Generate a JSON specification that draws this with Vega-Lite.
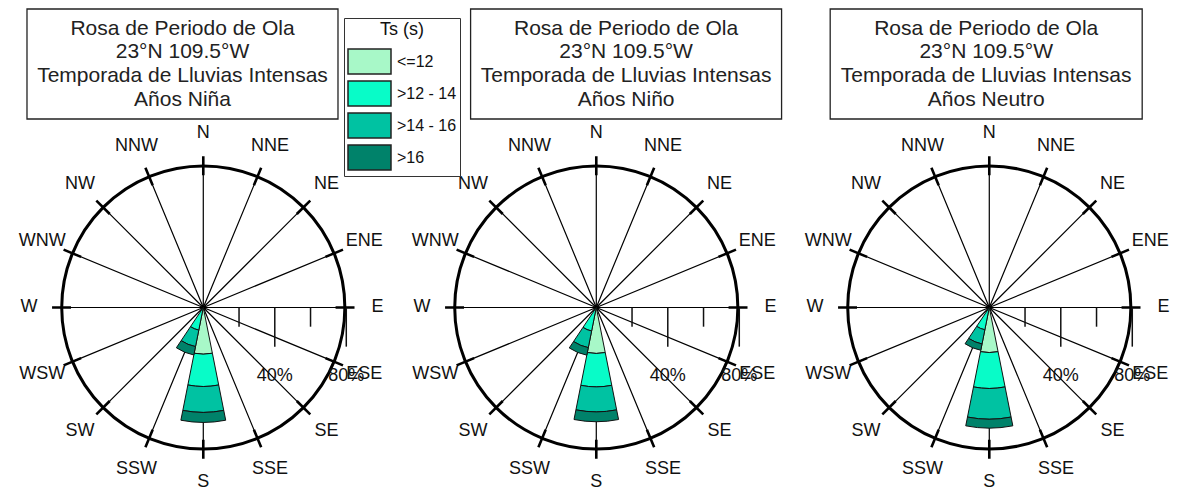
{
  "$schema": "https://vega.github.io/schema/vega-lite/v6.json",
  "padding": 0,
  "spacing": 0,
  "bounds": "flush",
  "config": {"font": "Liberation Sans", "view": {"stroke": null}, "text": {"color": "#111"}},
  "resolve": {"scale": {"color": "shared"}, "legend": {"color": "shared"}},
  "datasets": {
    "dirs": [
      {"dir": "N", "deg": 0}, {"dir": "NNE", "deg": 22.5}, {"dir": "NE", "deg": 45}, {"dir": "ENE", "deg": 67.5},
      {"dir": "E", "deg": 90}, {"dir": "ESE", "deg": 112.5}, {"dir": "SE", "deg": 135}, {"dir": "SSE", "deg": 157.5},
      {"dir": "S", "deg": 180}, {"dir": "SSW", "deg": 202.5}, {"dir": "SW", "deg": 225}, {"dir": "WSW", "deg": 247.5},
      {"dir": "W", "deg": 270}, {"dir": "WNW", "deg": 292.5}, {"dir": "NW", "deg": 315}, {"dir": "NNW", "deg": 337.5}
    ],
    "rose": [
      {"panel": "Niña", "dir": "S", "deg": 180, "clase": "<=12", "k": 1, "pct": 26.1},
      {"panel": "Niña", "dir": "S", "deg": 180, "clase": ">12 - 14", "k": 2, "pct": 18.1},
      {"panel": "Niña", "dir": "S", "deg": 180, "clase": ">14 - 16", "k": 3, "pct": 14.5},
      {"panel": "Niña", "dir": "S", "deg": 180, "clase": ">16", "k": 4, "pct": 5.6},
      {"panel": "Niña", "dir": "SSW", "deg": 202.5, "clase": "<=12", "k": 1, "pct": 0.3},
      {"panel": "Niña", "dir": "SSW", "deg": 202.5, "clase": ">12 - 14", "k": 2, "pct": 12.6},
      {"panel": "Niña", "dir": "SSW", "deg": 202.5, "clase": ">14 - 16", "k": 3, "pct": 9.4},
      {"panel": "Niña", "dir": "SSW", "deg": 202.5, "clase": ">16", "k": 4, "pct": 4.8},
      {"panel": "Niño", "dir": "S", "deg": 180, "clase": "<=12", "k": 1, "pct": 25.7},
      {"panel": "Niño", "dir": "S", "deg": 180, "clase": ">12 - 14", "k": 2, "pct": 18.7},
      {"panel": "Niño", "dir": "S", "deg": 180, "clase": ">14 - 16", "k": 3, "pct": 14.0},
      {"panel": "Niño", "dir": "S", "deg": 180, "clase": ">16", "k": 4, "pct": 5.5},
      {"panel": "Niño", "dir": "SSW", "deg": 202.5, "clase": "<=12", "k": 1, "pct": 0.3},
      {"panel": "Niño", "dir": "SSW", "deg": 202.5, "clase": ">12 - 14", "k": 2, "pct": 13.1},
      {"panel": "Niño", "dir": "SSW", "deg": 202.5, "clase": ">14 - 16", "k": 3, "pct": 9.5},
      {"panel": "Niño", "dir": "SSW", "deg": 202.5, "clase": ">16", "k": 4, "pct": 4.3},
      {"panel": "Neutro", "dir": "S", "deg": 180, "clase": "<=12", "k": 1, "pct": 25.2},
      {"panel": "Neutro", "dir": "S", "deg": 180, "clase": ">12 - 14", "k": 2, "pct": 20.1},
      {"panel": "Neutro", "dir": "S", "deg": 180, "clase": ">14 - 16", "k": 3, "pct": 17.2},
      {"panel": "Neutro", "dir": "S", "deg": 180, "clase": ">16", "k": 4, "pct": 5.0},
      {"panel": "Neutro", "dir": "SSW", "deg": 202.5, "clase": "<=12", "k": 1, "pct": 0.3},
      {"panel": "Neutro", "dir": "SSW", "deg": 202.5, "clase": ">12 - 14", "k": 2, "pct": 12.4},
      {"panel": "Neutro", "dir": "SSW", "deg": 202.5, "clase": ">14 - 16", "k": 3, "pct": 8.1},
      {"panel": "Neutro", "dir": "SSW", "deg": 202.5, "clase": ">16", "k": 4, "pct": 3.6}
    ],
    "ticks": [{"pct": 20, "label": "20%"}, {"pct": 40, "label": "40%"}, {"pct": 60, "label": "60%"}, {"pct": 80, "label": "80%"}]
  },
  "hconcat": [
    {
      "width": 392.4, "height": 491,
      "layer": [
        {"data": {"values": [{}]}, "mark": {"type": "rect", "fill": "white", "stroke": "#222", "strokeWidth": 1.3},
         "encoding": {"x": {"datum": -98.63, "type": "quantitative", "axis": null, "scale": {"domain": [-113.73, 105.8], "nice": false, "zero": false}}, "x2": {"datum": 75.36},
           "y": {"datum": 167.0, "type": "quantitative", "axis": null, "scale": {"domain": [-102.66, 172.03], "nice": false, "zero": false}}, "y2": {"datum": 105.45}}},
        {"data": {"values": [{}]}, "mark": {"type": "text", "fontSize": 21, "lineHeight": 23.6, "baseline": "middle", "align": "center", "color": "#222"},
         "encoding": {"x": {"datum": -11.64, "type": "quantitative", "axis": null}, "y": {"datum": 155.9, "type": "quantitative", "axis": null},
           "text": {"value": ["Rosa de Periodo de Ola", "23°N 109.5°W", "Temporada de Lluvias Intensas", "Años Niña"]}}},
        {"data": {"name": "dirs"}, "mark": {"type": "arc", "fillOpacity": 0, "stroke": "#000", "strokeWidth": 1.2},
         "encoding": {"x": {"datum": 0, "type": "quantitative", "axis": null}, "y": {"datum": 0, "type": "quantitative", "axis": null},
           "theta": {"field": "deg", "type": "quantitative", "stack": null, "scale": {"domain": [0, 360]}}, "theta2": {"field": "deg"},
           "radius": {"datum": 79.2, "type": "quantitative", "scale": {"type": "linear", "domain": [0, 80], "range": [0, 143], "zero": true, "nice": false}}, "radius2": {"datum": 0}}},
        {"data": {"name": "dirs"}, "mark": {"type": "arc", "fillOpacity": 0, "stroke": "#000", "strokeWidth": 2.6},
         "encoding": {"x": {"datum": 0, "type": "quantitative", "axis": null}, "y": {"datum": 0, "type": "quantitative", "axis": null},
           "theta": {"field": "deg", "type": "quantitative", "stack": null}, "theta2": {"field": "deg"},
           "radius": {"datum": 84.6, "type": "quantitative"}, "radius2": {"datum": 74}}},
        {"data": {"values": [{}]}, "mark": {"type": "arc", "fillOpacity": 0, "stroke": "#000", "strokeWidth": 3},
         "encoding": {"x": {"datum": 0, "type": "quantitative", "axis": null}, "y": {"datum": 0, "type": "quantitative", "axis": null},
           "theta": {"datum": 0, "type": "quantitative", "stack": null}, "theta2": {"datum": 360},
           "radius": {"datum": 79.2, "type": "quantitative"}, "radius2": {"datum": 0}}},
        {"data": {"name": "ticks"}, "transform": [{"filter": "datum.pct == 20 || datum.pct == 60"}], "mark": {"type": "rule", "color": "#111", "strokeWidth": 1.5},
         "encoding": {"x": {"field": "pct", "type": "quantitative", "axis": null}, "y": {"datum": 0, "type": "quantitative", "axis": null}, "y2": {"datum": -10.74}}},
        {"data": {"name": "ticks"}, "transform": [{"filter": "datum.pct == 40 || datum.pct == 80"}], "mark": {"type": "rule", "color": "#111", "strokeWidth": 1.5},
         "encoding": {"x": {"field": "pct", "type": "quantitative", "axis": null}, "y": {"datum": 0, "type": "quantitative", "axis": null}, "y2": {"datum": -21.9}}},
        {"data": {"name": "rose"}, "transform": [{"filter": "datum.panel == 'Niña'"}, {"calculate": "datum.deg - 11.25", "as": "t0"}, {"calculate": "datum.deg + 11.25", "as": "t1"}],
         "mark": {"type": "arc", "stroke": "#111", "strokeWidth": 1},
         "encoding": {"x": {"datum": 0, "type": "quantitative", "axis": null}, "y": {"datum": 0, "type": "quantitative", "axis": null},
           "theta": {"field": "t0", "type": "quantitative", "stack": null}, "theta2": {"field": "t1"},
           "radius": {"field": "pct", "type": "quantitative", "stack": "zero"},
           "order": {"field": "k", "type": "quantitative"},
           "color": {"field": "clase", "type": "nominal",
             "scale": {"domain": ["<=12", ">12 - 14", ">14 - 16", ">16"], "range": ["#A8F8C8", "#08FCC8", "#00C2A2", "#00826A"]},
             "legend": {"orient": "none", "legendX": 344, "legendY": 18, "title": "Ts (s)", "titleFontSize": 18, "titleFontWeight": "normal", "titleColor": "#111", "titleAnchor": "middle", "titlePadding": 9,
               "labelFontSize": 16, "labelColor": "#111", "labelOffset": 14, "symbolOffset": 9, "symbolType": "M-1.72,-1H1.72V1H-1.72Z", "symbolSize": 625, "symbolStrokeColor": "#222", "symbolStrokeWidth": 1.5, "symbolOpacity": 1,
               "rowPadding": 1, "padding": 3, "strokeColor": "#333", "fillColor": "white"}}}},
        {"data": {"name": "dirs"}, "mark": {"type": "text", "fontSize": 18, "baseline": "middle", "align": "center"},
         "encoding": {"x": {"datum": 0, "type": "quantitative", "axis": null}, "y": {"datum": 0, "type": "quantitative", "axis": null},
           "theta": {"field": "deg", "type": "quantitative", "stack": null}, "radius": {"datum": 97.5, "type": "quantitative"}, "text": {"field": "dir"}}},
        {"data": {"name": "ticks"}, "transform": [{"filter": "datum.pct == 40 || datum.pct == 80"}], "mark": {"type": "text", "fontSize": 18, "baseline": "middle", "align": "center"},
         "encoding": {"x": {"field": "pct", "type": "quantitative", "axis": null}, "y": {"datum": -38.3, "type": "quantitative", "axis": null}, "text": {"field": "label"}}}
      ]
    },
    {
      "width": 392.4, "height": 491,
      "layer": [
        {"data": {"values": [{}]}, "mark": {"type": "rect", "fill": "white", "stroke": "#222", "strokeWidth": 1.3},
         "encoding": {"x": {"datum": -70.32, "type": "quantitative", "axis": null, "scale": {"domain": [-113.73, 105.8], "nice": false, "zero": false}}, "x2": {"datum": 103.66},
           "y": {"datum": 167.0, "type": "quantitative", "axis": null, "scale": {"domain": [-102.66, 172.03], "nice": false, "zero": false}}, "y2": {"datum": 105.45}}},
        {"data": {"values": [{}]}, "mark": {"type": "text", "fontSize": 21, "lineHeight": 23.6, "baseline": "middle", "align": "center", "color": "#222"},
         "encoding": {"x": {"datum": 16.67, "type": "quantitative", "axis": null}, "y": {"datum": 155.9, "type": "quantitative", "axis": null},
           "text": {"value": ["Rosa de Periodo de Ola", "23°N 109.5°W", "Temporada de Lluvias Intensas", "Años Niño"]}}},
        {"data": {"name": "dirs"}, "mark": {"type": "arc", "fillOpacity": 0, "stroke": "#000", "strokeWidth": 1.2},
         "encoding": {"x": {"datum": 0, "type": "quantitative", "axis": null}, "y": {"datum": 0, "type": "quantitative", "axis": null},
           "theta": {"field": "deg", "type": "quantitative", "stack": null, "scale": {"domain": [0, 360]}}, "theta2": {"field": "deg"},
           "radius": {"datum": 79.2, "type": "quantitative", "scale": {"type": "linear", "domain": [0, 80], "range": [0, 143], "zero": true, "nice": false}}, "radius2": {"datum": 0}}},
        {"data": {"name": "dirs"}, "mark": {"type": "arc", "fillOpacity": 0, "stroke": "#000", "strokeWidth": 2.6},
         "encoding": {"x": {"datum": 0, "type": "quantitative", "axis": null}, "y": {"datum": 0, "type": "quantitative", "axis": null},
           "theta": {"field": "deg", "type": "quantitative", "stack": null}, "theta2": {"field": "deg"},
           "radius": {"datum": 84.6, "type": "quantitative"}, "radius2": {"datum": 74}}},
        {"data": {"values": [{}]}, "mark": {"type": "arc", "fillOpacity": 0, "stroke": "#000", "strokeWidth": 3},
         "encoding": {"x": {"datum": 0, "type": "quantitative", "axis": null}, "y": {"datum": 0, "type": "quantitative", "axis": null},
           "theta": {"datum": 0, "type": "quantitative", "stack": null}, "theta2": {"datum": 360},
           "radius": {"datum": 79.2, "type": "quantitative"}, "radius2": {"datum": 0}}},
        {"data": {"name": "ticks"}, "transform": [{"filter": "datum.pct == 20 || datum.pct == 60"}], "mark": {"type": "rule", "color": "#111", "strokeWidth": 1.5},
         "encoding": {"x": {"field": "pct", "type": "quantitative", "axis": null}, "y": {"datum": 0, "type": "quantitative", "axis": null}, "y2": {"datum": -10.74}}},
        {"data": {"name": "ticks"}, "transform": [{"filter": "datum.pct == 40 || datum.pct == 80"}], "mark": {"type": "rule", "color": "#111", "strokeWidth": 1.5},
         "encoding": {"x": {"field": "pct", "type": "quantitative", "axis": null}, "y": {"datum": 0, "type": "quantitative", "axis": null}, "y2": {"datum": -21.9}}},
        {"data": {"name": "rose"}, "transform": [{"filter": "datum.panel == 'Niño'"}, {"calculate": "datum.deg - 11.25", "as": "t0"}, {"calculate": "datum.deg + 11.25", "as": "t1"}],
         "mark": {"type": "arc", "stroke": "#111", "strokeWidth": 1},
         "encoding": {"x": {"datum": 0, "type": "quantitative", "axis": null}, "y": {"datum": 0, "type": "quantitative", "axis": null},
           "theta": {"field": "t0", "type": "quantitative", "stack": null}, "theta2": {"field": "t1"},
           "radius": {"field": "pct", "type": "quantitative", "stack": "zero"},
           "order": {"field": "k", "type": "quantitative"},
           "color": {"field": "clase", "type": "nominal",
             "scale": {"domain": ["<=12", ">12 - 14", ">14 - 16", ">16"], "range": ["#A8F8C8", "#08FCC8", "#00C2A2", "#00826A"]},
             "legend": {"orient": "none", "legendX": 344, "legendY": 18, "title": "Ts (s)", "titleFontSize": 18, "titleFontWeight": "normal", "titleColor": "#111", "titleAnchor": "middle", "titlePadding": 9,
               "labelFontSize": 16, "labelColor": "#111", "labelOffset": 14, "symbolOffset": 9, "symbolType": "M-1.72,-1H1.72V1H-1.72Z", "symbolSize": 625, "symbolStrokeColor": "#222", "symbolStrokeWidth": 1.5, "symbolOpacity": 1,
               "rowPadding": 1, "padding": 3, "strokeColor": "#333", "fillColor": "white"}}}},
        {"data": {"name": "dirs"}, "mark": {"type": "text", "fontSize": 18, "baseline": "middle", "align": "center"},
         "encoding": {"x": {"datum": 0, "type": "quantitative", "axis": null}, "y": {"datum": 0, "type": "quantitative", "axis": null},
           "theta": {"field": "deg", "type": "quantitative", "stack": null}, "radius": {"datum": 97.5, "type": "quantitative"}, "text": {"field": "dir"}}},
        {"data": {"name": "ticks"}, "transform": [{"filter": "datum.pct == 40 || datum.pct == 80"}], "mark": {"type": "text", "fontSize": 18, "baseline": "middle", "align": "center"},
         "encoding": {"x": {"field": "pct", "type": "quantitative", "axis": null}, "y": {"datum": -38.3, "type": "quantitative", "axis": null}, "text": {"field": "label"}}}
      ]
    },
    {
      "width": 392.4, "height": 491,
      "layer": [
        {"data": {"values": [{}]}, "mark": {"type": "rect", "fill": "white", "stroke": "#222", "strokeWidth": 1.3},
         "encoding": {"x": {"datum": -89.01, "type": "quantitative", "axis": null, "scale": {"domain": [-113.73, 105.8], "nice": false, "zero": false}}, "x2": {"datum": 85.54},
           "y": {"datum": 167.0, "type": "quantitative", "axis": null, "scale": {"domain": [-102.66, 172.03], "nice": false, "zero": false}}, "y2": {"datum": 105.45}}},
        {"data": {"values": [{}]}, "mark": {"type": "text", "fontSize": 21, "lineHeight": 23.6, "baseline": "middle", "align": "center", "color": "#222"},
         "encoding": {"x": {"datum": -1.73, "type": "quantitative", "axis": null}, "y": {"datum": 155.9, "type": "quantitative", "axis": null},
           "text": {"value": ["Rosa de Periodo de Ola", "23°N 109.5°W", "Temporada de Lluvias Intensas", "Años Neutro"]}}},
        {"data": {"name": "dirs"}, "mark": {"type": "arc", "fillOpacity": 0, "stroke": "#000", "strokeWidth": 1.2},
         "encoding": {"x": {"datum": 0, "type": "quantitative", "axis": null}, "y": {"datum": 0, "type": "quantitative", "axis": null},
           "theta": {"field": "deg", "type": "quantitative", "stack": null, "scale": {"domain": [0, 360]}}, "theta2": {"field": "deg"},
           "radius": {"datum": 79.2, "type": "quantitative", "scale": {"type": "linear", "domain": [0, 80], "range": [0, 143], "zero": true, "nice": false}}, "radius2": {"datum": 0}}},
        {"data": {"name": "dirs"}, "mark": {"type": "arc", "fillOpacity": 0, "stroke": "#000", "strokeWidth": 2.6},
         "encoding": {"x": {"datum": 0, "type": "quantitative", "axis": null}, "y": {"datum": 0, "type": "quantitative", "axis": null},
           "theta": {"field": "deg", "type": "quantitative", "stack": null}, "theta2": {"field": "deg"},
           "radius": {"datum": 84.6, "type": "quantitative"}, "radius2": {"datum": 74}}},
        {"data": {"values": [{}]}, "mark": {"type": "arc", "fillOpacity": 0, "stroke": "#000", "strokeWidth": 3},
         "encoding": {"x": {"datum": 0, "type": "quantitative", "axis": null}, "y": {"datum": 0, "type": "quantitative", "axis": null},
           "theta": {"datum": 0, "type": "quantitative", "stack": null}, "theta2": {"datum": 360},
           "radius": {"datum": 79.2, "type": "quantitative"}, "radius2": {"datum": 0}}},
        {"data": {"name": "ticks"}, "transform": [{"filter": "datum.pct == 20 || datum.pct == 60"}], "mark": {"type": "rule", "color": "#111", "strokeWidth": 1.5},
         "encoding": {"x": {"field": "pct", "type": "quantitative", "axis": null}, "y": {"datum": 0, "type": "quantitative", "axis": null}, "y2": {"datum": -10.74}}},
        {"data": {"name": "ticks"}, "transform": [{"filter": "datum.pct == 40 || datum.pct == 80"}], "mark": {"type": "rule", "color": "#111", "strokeWidth": 1.5},
         "encoding": {"x": {"field": "pct", "type": "quantitative", "axis": null}, "y": {"datum": 0, "type": "quantitative", "axis": null}, "y2": {"datum": -21.9}}},
        {"data": {"name": "rose"}, "transform": [{"filter": "datum.panel == 'Neutro'"}, {"calculate": "datum.deg - 11.25", "as": "t0"}, {"calculate": "datum.deg + 11.25", "as": "t1"}],
         "mark": {"type": "arc", "stroke": "#111", "strokeWidth": 1},
         "encoding": {"x": {"datum": 0, "type": "quantitative", "axis": null}, "y": {"datum": 0, "type": "quantitative", "axis": null},
           "theta": {"field": "t0", "type": "quantitative", "stack": null}, "theta2": {"field": "t1"},
           "radius": {"field": "pct", "type": "quantitative", "stack": "zero"},
           "order": {"field": "k", "type": "quantitative"},
           "color": {"field": "clase", "type": "nominal",
             "scale": {"domain": ["<=12", ">12 - 14", ">14 - 16", ">16"], "range": ["#A8F8C8", "#08FCC8", "#00C2A2", "#00826A"]},
             "legend": {"orient": "none", "legendX": 344, "legendY": 18, "title": "Ts (s)", "titleFontSize": 18, "titleFontWeight": "normal", "titleColor": "#111", "titleAnchor": "middle", "titlePadding": 9,
               "labelFontSize": 16, "labelColor": "#111", "labelOffset": 14, "symbolOffset": 9, "symbolType": "M-1.72,-1H1.72V1H-1.72Z", "symbolSize": 625, "symbolStrokeColor": "#222", "symbolStrokeWidth": 1.5, "symbolOpacity": 1,
               "rowPadding": 1, "padding": 3, "strokeColor": "#333", "fillColor": "white"}}}},
        {"data": {"name": "dirs"}, "mark": {"type": "text", "fontSize": 18, "baseline": "middle", "align": "center"},
         "encoding": {"x": {"datum": 0, "type": "quantitative", "axis": null}, "y": {"datum": 0, "type": "quantitative", "axis": null},
           "theta": {"field": "deg", "type": "quantitative", "stack": null}, "radius": {"datum": 97.5, "type": "quantitative"}, "text": {"field": "dir"}}},
        {"data": {"name": "ticks"}, "transform": [{"filter": "datum.pct == 40 || datum.pct == 80"}], "mark": {"type": "text", "fontSize": 18, "baseline": "middle", "align": "center"},
         "encoding": {"x": {"field": "pct", "type": "quantitative", "axis": null}, "y": {"datum": -38.3, "type": "quantitative", "axis": null}, "text": {"field": "label"}}}
      ]
    }
  ]
}
